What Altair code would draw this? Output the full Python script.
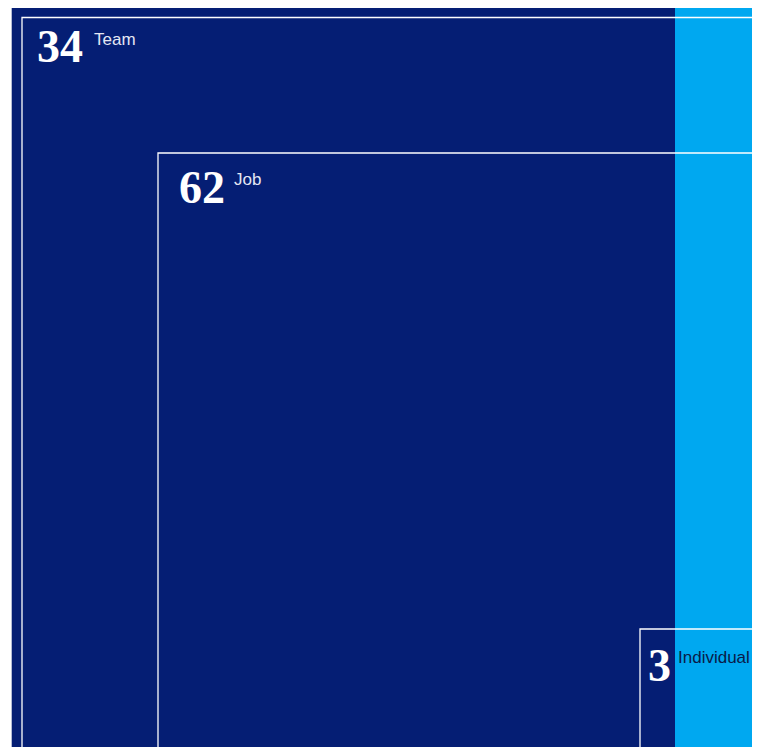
import altair as alt
import pandas as pd

# ---- data ----
categories = ["Team", "Job", "Individual"]
values = [34, 62, 3]
# nested square outlines (left / top edge, common bottom-right corner)
square_left = [22, 158, 640]
square_top = [17.5, 153, 629]
square_right = [772, 772, 772]
square_bottom = [766, 766, 766]
# number and label anchors
number_x = [37, 179, 648]
number_y = [62, 203, 680.5]
label_x = [94, 234, 678]
label_y = [45, 185, 663]
# background bands
band_names = ["base", "highlight"]
band_left = [11.7, 675]
band_right = [675, 810]
band_top = [7, 7]
band_bottom = [810, 810]

NAVY = "#051e74"
SKY = "#00a8f0"

sq = pd.DataFrame({
    "category": categories, "value": values,
    "x0": square_left, "y0": square_top, "x1": square_right, "y1": square_bottom,
    "nx": number_x, "ny": number_y, "lx": label_x, "ly": label_y,
})
bands = pd.DataFrame({"band": band_names, "x0": band_left, "x1": band_right,
                      "y0": band_top, "y1": band_bottom})

W, H = 744, 739
xs = alt.Scale(domain=[8, 8 + W], nice=False, zero=False)
ys = alt.Scale(domain=[8, 8 + H], nice=False, zero=False, reverse=True)

band_layer = alt.Chart(bands).mark_rect(stroke=None, clip=True).encode(
    x=alt.X("x0:Q", scale=xs, axis=None), x2="x1:Q",
    y=alt.Y("y0:Q", scale=ys, axis=None), y2="y1:Q",
    color=alt.Color("band:N", scale=alt.Scale(domain=band_names, range=[NAVY, SKY]), legend=None),
)

outline = alt.Chart(sq).mark_rect(fill=None, stroke="white", strokeWidth=1.3, clip=True).encode(
    x=alt.X("x0:Q", scale=xs, axis=None), x2="x1:Q",
    y=alt.Y("y0:Q", scale=ys, axis=None), y2="y1:Q",
)

numbers = alt.Chart(sq).mark_text(
    align="left", baseline="alphabetic", font="Liberation Serif",
    fontSize=46, fontWeight="bold", color="white",
).encode(
    x=alt.X("nx:Q", scale=xs, axis=None),
    y=alt.Y("ny:Q", scale=ys, axis=None),
    text="value:Q",
)

labels = alt.Chart(sq).mark_text(
    align="left", baseline="alphabetic", font="Liberation Sans", fontSize=17,
).encode(
    x=alt.X("lx:Q", scale=xs, axis=None),
    y=alt.Y("ly:Q", scale=ys, axis=None),
    text="category:N",
    color=alt.condition(alt.datum.category == "Individual",
                        alt.value("#0a1a48"), alt.value("#e4e7f3")),
)

chart = alt.layer(band_layer, outline, numbers, labels).properties(
    width=W, height=H, padding=0,
    autosize=alt.AutoSizeParams(type="none"),
).configure_view(stroke=None)

chart.save("out.html", embed_options={"renderer": "svg", "actions": False})
